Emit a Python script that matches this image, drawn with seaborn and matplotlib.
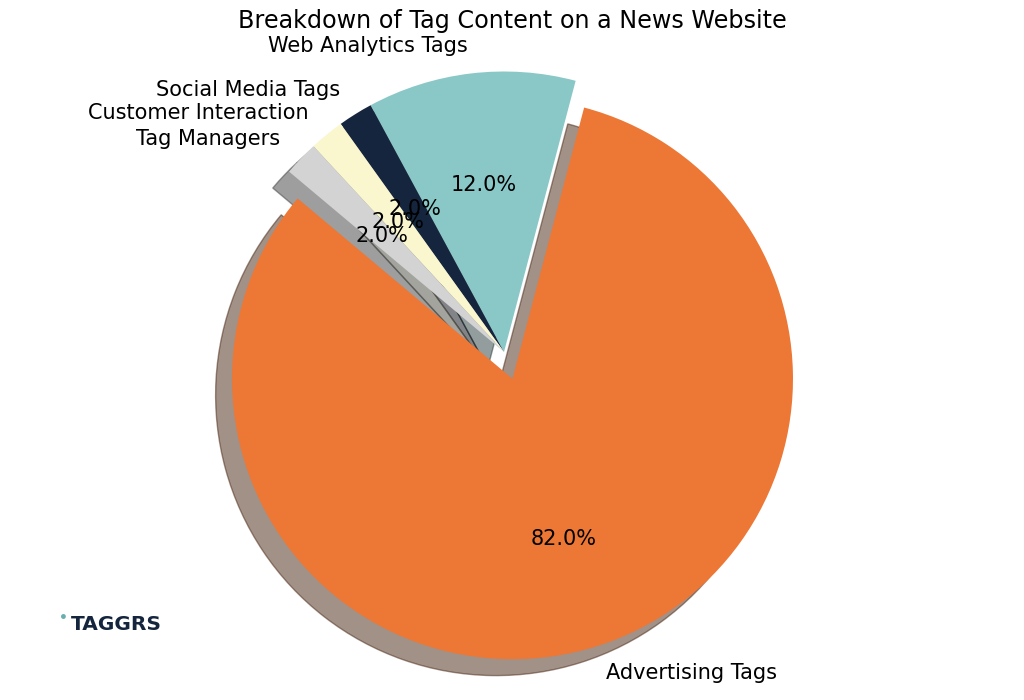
import matplotlib
matplotlib.use("Agg")
import matplotlib.pyplot as plt
import seaborn as sns

sns.set_theme(style="white")
plt.rcParams['font.family'] = ['DejaVu Sans']
plt.rcParams['text.color'] = 'black'
plt.rcParams['patch.force_edgecolor'] = False

categories = ["Advertising Tags", "Web Analytics Tags", "Social Media Tags",
              "Customer Interaction", "Tag Managers"]
shares = [82, 12, 2, 2, 2]
colors = ["#ED7735", "#8AC8C8", "#14253D", "#FAF6CE", "#D3D3D3"]
explode = [0.1, 0, 0, 0, 0]

fig = plt.figure(figsize=(10.24, 7), dpi=100)
ax = fig.add_axes([0, 0, 1, 1])
wedges, texts, autotexts = ax.pie(
    shares, labels=categories, colors=colors, explode=explode,
    autopct="%1.1f%%", startangle=140,
    shadow={"ox": -0.042, "oy": -0.042},
    textprops={"fontsize": 15, "color": "black"})
R = 280.5
cx, cy = 504, 352
ax.set_xlim(-cx / R, (1024 - cx) / R)
ax.set_ylim(-(700 - cy) / R, cy / R)
ax.set_aspect("equal", adjustable="box")
ax.axis("off")
fig.text(0.5, 1 - 21 / 700, "Breakdown of Tag Content on a News Website",
         fontsize=17.2, color="black", ha="center", va="center")
fig.text(0.0615, 1 - 618 / 700, "\u2022", color="#6AAFB0", fontsize=10,
         fontweight="bold", ha="center", va="center")
fig.text(0.069, 1 - 625 / 700, "TAGGRS", color="#14253D", fontsize=14.5,
         fontweight="bold", ha="left", va="center")
fig.savefig("out.png", dpi=100)
